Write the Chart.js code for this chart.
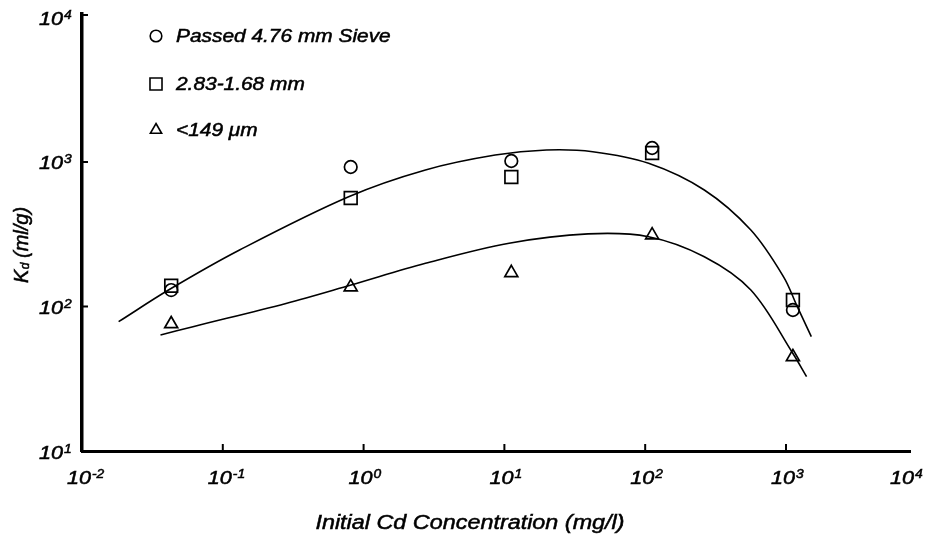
<!DOCTYPE html>
<html>
<head>
<meta charset="utf-8">
<script src="https://cdn.jsdelivr.net/npm/chart.js@4.4.1/dist/chart.umd.min.js"></script>
<style>
  html, body { margin: 0; padding: 0; background: #fff; }
  #wrap { width: 926px; height: 537px; }
</style>
</head>
<body>
<div id="wrap"><canvas id="kdChart"></canvas></div>
<script>
// measured points (initial Cd concentration mg/l vs Kd ml/g)
const concentrations = [0.043, 0.81, 11.2, 112, 1120];
const kdPassed = [130, 923, 1016, 1250, 94.6];
const kdCoarse = [139, 564, 787, 1153, 111];
const kdFine = [75.7, 136, 171, 312, 44.8];

// hand-drawn fit curves
const fitUpperX = [0.0182, 0.042, 0.1315, 0.783, 2.75, 8.6, 19.9, 42.4, 105.7, 263, 563, 959, 1203, 1513];
const fitUpperY = [78.5, 131.5, 246, 575, 881, 1117, 1211, 1178, 980, 640, 338, 161, 99.7, 61.8];
const fitLowerX = [0.0361, 0.0614, 0.281, 0.815, 2.75, 10.8, 39.3, 105.7, 263, 563, 1117, 1400];
const fitLowerY = [63.5, 72.5, 105, 141, 199, 274, 318, 304, 221, 130, 47.5, 32.7];

// axes: the x axis stops short of 10^4 in the original, its end is labelled 10^4
const xTickValues = [0.01, 0.1, 1, 10, 100, 1000, 7600];
const xTickPowers = ['-2', '-1', '0', '1', '2', '3', '4'];
const yTickValues = [10, 100, 1000, 10000];
const yTickPowers = ['1', '2', '3', '4'];

const legendNames = ['Passed 4.76 mm Sieve', '2.83-1.68 mm', '<149 \u03BCm'];

const FONT = '"Liberation Sans", Arial, sans-serif';

const toXY = (xs, ys) => xs.map((x, i) => ({ x: x, y: ys[i] }));

function pointSet(label, ys, style, radius) {
  return {
    type: 'scatter',
    label: label,
    data: toXY(concentrations, ys),
    pointStyle: style,
    pointRadius: radius,
    pointBorderColor: '#000',
    pointBackgroundColor: 'rgba(0,0,0,0)',
    pointBorderWidth: 1.7,
    showLine: false
  };
}

function fitSet(xs, ys) {
  return {
    type: 'line',
    label: 'fit',
    data: toXY(xs, ys),
    borderColor: '#000',
    borderWidth: 1.6,
    pointRadius: 0,
    tension: 0.35,
    fill: false
  };
}

// the scanned lettering is wider than Liberation Sans, so stretch it sideways
function wideText(ctx, text, x, y, stretch, align) {
  const w = ctx.measureText(text).width * stretch;
  let left = x;
  if (align === 'center') left = x - w / 2;
  if (align === 'right') left = x - w;
  ctx.save();
  ctx.translate(left, y);
  ctx.scale(stretch, 1);
  ctx.textAlign = 'left';
  ctx.fillText(text, 0, 0);
  ctx.lineWidth = 0.5;
  ctx.strokeText(text, 0, 0);
  ctx.restore();
  return w;
}

// "10" with a raised exponent; (bx, cy) = left edge / vertical centre of "10"
function drawPower(ctx, exp, bx, cy) {
  ctx.textBaseline = 'alphabetic';
  ctx.font = 'italic 18px ' + FONT;
  const w = wideText(ctx, '10', bx, cy + 6.5, 1.2, 'left');
  ctx.font = 'italic 12px ' + FONT;
  wideText(ctx, exp, bx + w + 1, cy + 0.5, 1.15, 'left');
}

const decorations = {
  id: 'decorations',
  afterDraw(chart) {
    const ctx = chart.ctx;
    const xs = chart.scales.x, ys = chart.scales.y;
    const area = chart.chartArea;
    ctx.save();
    ctx.strokeStyle = '#000';
    ctx.fillStyle = '#000';
    ctx.lineWidth = 2;

    // inward tick marks
    xTickValues.slice(1, -1).forEach(v => {
      const px = xs.getPixelForValue(v);
      ctx.beginPath();
      ctx.moveTo(px, area.bottom);
      ctx.lineTo(px, area.bottom - 7);
      ctx.stroke();
    });
    ctx.beginPath();
    ctx.moveTo(area.left, area.top + 1);
    ctx.lineTo(area.left + 6, area.top + 1);
    ctx.stroke();
    yTickValues.slice(1, -1).forEach(v => {
      const py = ys.getPixelForValue(v);
      ctx.beginPath();
      ctx.moveTo(area.left, py);
      ctx.lineTo(area.left + 6, py);
      ctx.stroke();
    });

    // tick labels placed on the library scales
    ctx.font = 'italic 18px ' + FONT;
    const w10 = ctx.measureText('10').width * 1.2;
    xTickValues.forEach((v, i) => {
      const px = xs.getPixelForValue(v);
      const left = Math.min(px - 3 - w10 / 2, 923 - w10 - 9);
      drawPower(ctx, xTickPowers[i], left, 477);
    });
    yTickValues.forEach((v, i) => {
      const py = ys.getPixelForValue(v);
      drawPower(ctx, yTickPowers[i], 63 - w10, py + 1);
    });

    // legend
    const styles = ['circle', 'rect', 'triangle'];
    const radii = [5.8, 8.5, 6.5];
    const rows = [36, 84, 130];
    ctx.lineWidth = 1.6;
    ctx.fillStyle = 'rgba(0,0,0,0)';
    styles.forEach((s, i) => {
      Chart.helpers.drawPoint(ctx, { pointStyle: s, radius: radii[i], rotation: 0, borderWidth: 1.6 }, 156, rows[i]);
    });
    ctx.fillStyle = '#000';
    ctx.font = 'italic 18px ' + FONT;
    ctx.textBaseline = 'middle';
    legendNames.forEach((t, i) => wideText(ctx, t, 176, rows[i] + 1, 1.16, 'left'));

    // x title
    ctx.font = 'italic 20.5px ' + FONT;
    wideText(ctx, 'Initial Cd Concentration (mg/l)', 470, 523, 1.14, 'center');

    // y title, K with subscript d
    ctx.translate(22, 240);
    ctx.rotate(-Math.PI / 2);
    ctx.font = 'italic 20px ' + FONT;
    let x0 = -43;
    x0 += wideText(ctx, 'K', x0, 0, 1, 'left');
    ctx.font = 'italic 12px ' + FONT;
    x0 += wideText(ctx, 'd', x0 + 0.5, 4, 1, 'left') + 5;
    ctx.font = 'italic 20px ' + FONT;
    wideText(ctx, '(ml/g)', x0, 0, 1, 'left');
    ctx.restore();
  }
};

new Chart(document.getElementById('kdChart'), {
  data: {
    datasets: [
      pointSet(legendNames[0], kdPassed, 'circle', 6.3),
      pointSet(legendNames[1], kdCoarse, 'rect', 9),
      pointSet(legendNames[2], kdFine, 'triangle', 7.5),
      fitSet(fitUpperX, fitUpperY),
      fitSet(fitLowerX, fitLowerY)
    ]
  },
  options: {
    responsive: true,
    maintainAspectRatio: false,
    animation: false,
    layout: { padding: { top: 14, right: 16, left: 0, bottom: 0 } },
    plugins: { legend: { display: false }, tooltip: { enabled: false } },
    scales: {
      x: {
        type: 'logarithmic',
        min: 0.01,
        max: 7600,
        afterBuildTicks: sc => { sc.ticks = xTickValues.map(v => ({ value: v })); },
        afterFit: sc => { sc.height = 86; sc.paddingLeft = 0; sc.paddingRight = 0; },
        grid: { display: false, drawTicks: false },
        border: { display: true, color: '#000', width: 3 },
        ticks: { display: false }
      },
      y: {
        type: 'logarithmic',
        min: 10,
        max: 10570,
        afterBuildTicks: sc => { sc.ticks = yTickValues.map(v => ({ value: v })); },
        afterFit: sc => { sc.width = 82; sc.paddingTop = 0; sc.paddingBottom = 0; },
        grid: { display: false, drawTicks: false },
        border: { display: true, color: '#000', width: 3.5 },
        ticks: { display: false }
      }
    }
  },
  plugins: [decorations]
});
</script>
</body>
</html>
